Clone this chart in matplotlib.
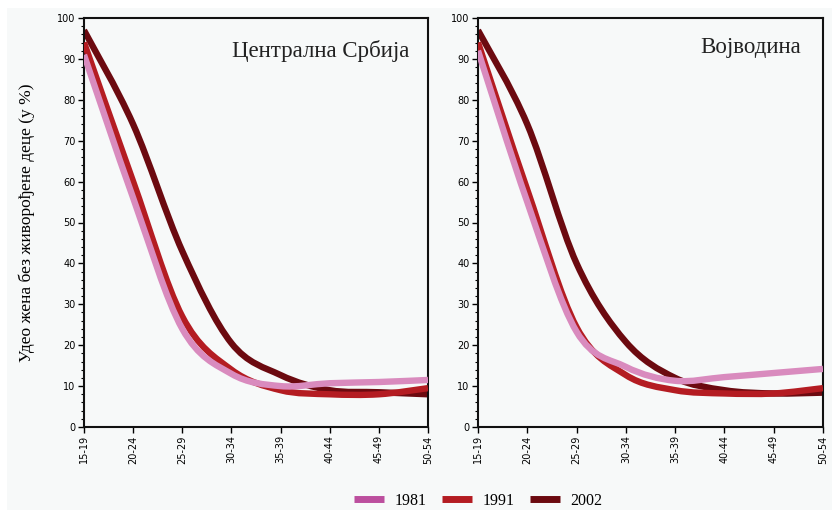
import matplotlib
matplotlib.use("Agg")
import matplotlib.pyplot as plt
from matplotlib.path import Path
from matplotlib.patches import PathPatch, Rectangle
from matplotlib.lines import Line2D
from matplotlib.ticker import MultipleLocator
import numpy as np

age_groups = ["15-19", "20-24", "25-29", "30-34", "35-39", "40-44", "45-49", "50-54"]
years = ["1981", "1991", "2002"]

central_1981 = [91, 56, 24, 13, 10, 10.7, 11, 11.5]
central_1991 = [94, 60, 27, 14, 9, 8, 8, 9.5]
central_2002 = [97, 74, 43, 20.5, 12.7, 9, 8.5, 8]

vojv_1981 = [92, 55, 23.3, 14.7, 11.3, 12.2, 13.2, 14.2]
vojv_1991 = [94, 58, 24.4, 12.7, 9, 8.2, 8.2, 9.5]
vojv_2002 = [97, 74, 40, 20.8, 12, 9, 8.2, 8.4]

panel_titles = ["Централна Србија", "Војводина"]
ylabel = "Удео жена без живорођене деце (у %)"

line_colors = ["#D98BBE", "#B41C22", "#6C0A10"]
legend_colors = ["#BC4F9E", "#B41C22", "#6C0A10"]
zorders = [4, 3, 2]

SERIF = ["Liberation Serif", "DejaVu Serif"]


def smooth_path(xs, ys):
    xs = np.asarray(xs, float)
    ys = np.asarray(ys, float)
    n = len(xs)
    verts = [(xs[0], ys[0])]
    codes = [Path.MOVETO]
    for i in range(n - 1):
        p0 = np.array([xs[max(i - 1, 0)], ys[max(i - 1, 0)]])
        p1 = np.array([xs[i], ys[i]])
        p2 = np.array([xs[i + 1], ys[i + 1]])
        p3 = np.array([xs[min(i + 2, n - 1)], ys[min(i + 2, n - 1)]])
        c1 = p1 + (p2 - p0) / 6.0
        c2 = p2 - (p3 - p1) / 6.0
        verts += [tuple(c1), tuple(c2), tuple(p2)]
        codes += [Path.CURVE4, Path.CURVE4, Path.CURVE4]
    return Path(verts, codes)


fig = plt.figure(figsize=(8.32, 5.12), dpi=100, facecolor="white")
fig.patches.append(Rectangle((7 / 832, 2 / 512), 825 / 832, 502 / 512,
                             transform=fig.transFigure, facecolor="#F7F9F9",
                             edgecolor="none", zorder=-10))

axes_specs = [
    [84 / 832, 85 / 512, 344 / 832, 409 / 512],
    [478 / 832, 85 / 512, 345 / 832, 409 / 512],
]
panel_data = [
    [central_1981, central_1991, central_2002],
    [vojv_1981, vojv_1991, vojv_2002],
]
title_pos = [(0.945, 0.92), (0.935, 0.928)]

x = np.arange(len(age_groups))
for k, rect in enumerate(axes_specs):
    ax = fig.add_axes(rect)
    ax.set_facecolor("#F7F9F9")
    ax.set_xlim(0, len(age_groups) - 1)
    ax.set_ylim(0, 100)
    for j, series in enumerate(panel_data[k]):
        patch = PathPatch(smooth_path(x, series), facecolor="none",
                          edgecolor=line_colors[j], linewidth=4.6,
                          capstyle="butt", joinstyle="round",
                          zorder=zorders[j])
        ax.add_patch(patch)
    ax.set_xticks(x)
    ax.set_xticklabels(age_groups, rotation=90, fontsize=7, family="DejaVu Sans")
    ax.yaxis.set_major_locator(MultipleLocator(10))
    ax.yaxis.set_minor_locator(MultipleLocator(2))
    ax.tick_params(axis="y", which="major", length=4, width=1, labelsize=7, pad=2)
    ax.tick_params(axis="y", which="minor", length=2, width=0.8)
    ax.tick_params(axis="x", which="major", length=4, width=1, pad=2)
    for s in ax.spines.values():
        s.set_linewidth(1.5)
        s.set_color("#111111")
    ax.text(title_pos[k][0], title_pos[k][1], panel_titles[k],
            transform=ax.transAxes, ha="right", va="center",
            fontsize=16.5, family=SERIF, color="#222222")
    if k == 0:
        ax.set_ylabel(ylabel, fontsize=12.5, family=SERIF, labelpad=16)

handles = [Line2D([], [], color=c, linewidth=5, solid_capstyle="butt")
           for c in legend_colors]
fig.legend(handles, years, loc="center", bbox_to_anchor=(478 / 832, 11 / 512),
           ncol=3, frameon=False, prop={"family": SERIF, "size": 11.5},
           handlelength=1.9, columnspacing=0.95, handletextpad=0.65)

fig.savefig("out.png", dpi=100, facecolor=fig.get_facecolor())
